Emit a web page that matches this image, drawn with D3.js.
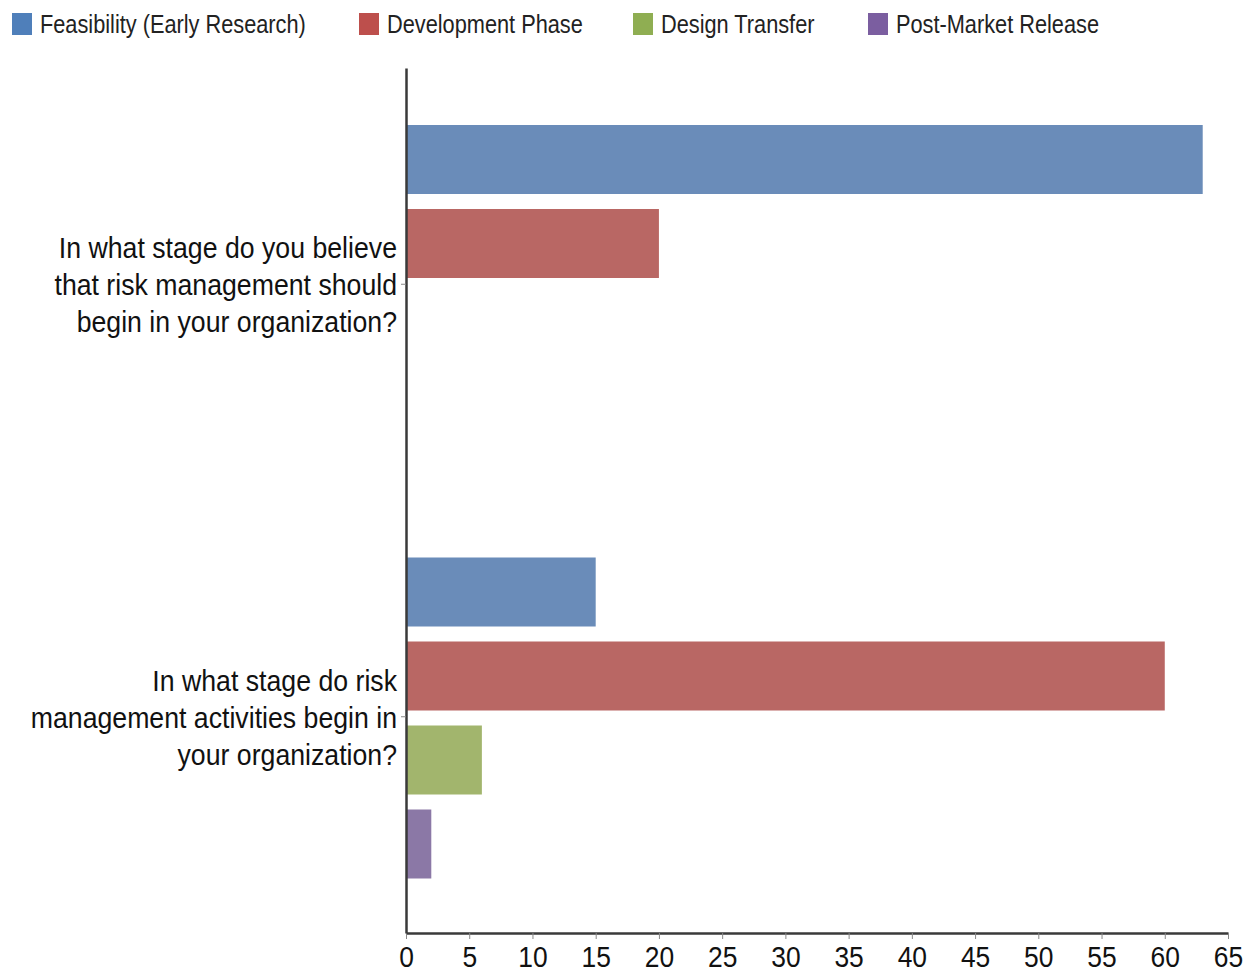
<!DOCTYPE html>
<html><head><meta charset="utf-8">
<script src="https://cdn.jsdelivr.net/npm/d3@7"></script>
<style>body{margin:0;background:#fff;}svg{display:block;font-family:"Liberation Sans",Arial,sans-serif;}</style>
</head><body><svg id="c" width="1253" height="974"></svg>
<script>
const categories = [
  ["In what stage do you believe","that risk management should","begin in your organization?"],
  ["In what stage do risk","management activities begin in","your organization?"]
];
const seriesNames = ["Feasibility (Early Research)","Development Phase","Design Transfer","Post-Market Release"];
const legendColors = ["#4f7fba","#bd4f4c","#8fae52","#7b5ea0"];
const barColors = ["#6a8cb9","#b96764","#a2b56d","#8b78a6"];
const values = [
  [63, 20, null, null],
  [15, 60, 6, 2]
];
const xTicks = [0,5,10,15,20,25,30,35,40,45,50,55,60,65];

(function(){
const svg = d3.select("#c");
const mLeft = 406, mRight = 1228, mTop = 68, mBottom = 933;
const x = d3.scaleLinear().domain([0,65]).range([mLeft,mRight]);
const y = d3.scaleBand().domain(d3.range(categories.length)).range([mTop,mBottom]);
const inner = d3.scaleBand().domain(d3.range(seriesNames.length))
  .range([57, 378]).paddingInner(15/84).paddingOuter(0);

categories.forEach((c,i)=>{
  const g = svg.append("g");
  values[i].forEach((v,j)=>{
    if(v==null) return;
    g.append("rect")
      .attr("x", x(0)).attr("y", y(i)+inner(j))
      .attr("width", x(v)-x(0)).attr("height", inner.bandwidth())
      .attr("fill", barColors[j]);
  });
});

const xa = svg.append("g").attr("transform",`translate(0,${mBottom})`)
  .call(d3.axisBottom(x).tickValues(xTicks).tickSize(6).tickSizeOuter(0));
xa.select(".domain").attr("stroke","#3a3a3a").attr("stroke-width",2.5);
xa.selectAll(".tick line").attr("stroke","#888").attr("stroke-width",1);
xa.selectAll(".tick text").attr("font-size",30).attr("fill","#111")
  .attr("y",34).attr("dy",0).attr("transform","scale(0.88,1)")
  .attr("font-family","'Liberation Sans',Arial,sans-serif");

const ya = svg.append("g").attr("transform",`translate(${mLeft},0)`)
  .call(d3.axisLeft(y).tickSize(5).tickSizeOuter(0).tickFormat(""));
ya.select(".domain").attr("stroke","#3a3a3a").attr("stroke-width",2.5);
ya.selectAll(".tick line").attr("stroke","#888");

categories.forEach((lines,i)=>{
  const cy = y(i)+y.bandwidth()/2;
  const t = svg.append("text").attr("text-anchor","end").attr("font-size",29).attr("fill","#111")
    .attr("transform",`translate(397,${cy}) scale(0.92,1)`);
  lines.forEach((l,k)=>{
    t.append("tspan").attr("x",0).attr("y",(k-1)*37 + 11).text(l);
  });
});

const legX = [12,359,633,868];
seriesNames.forEach((n,j)=>{
  const g = svg.append("g").attr("transform",`translate(${legX[j]},13)`);
  g.append("rect").attr("width",20).attr("height",22).attr("fill",legendColors[j]);
  g.append("text").attr("transform","translate(28,20) scale(0.87,1)").attr("font-size",25).attr("fill","#222").text(n);
});
})();
</script></body></html>
